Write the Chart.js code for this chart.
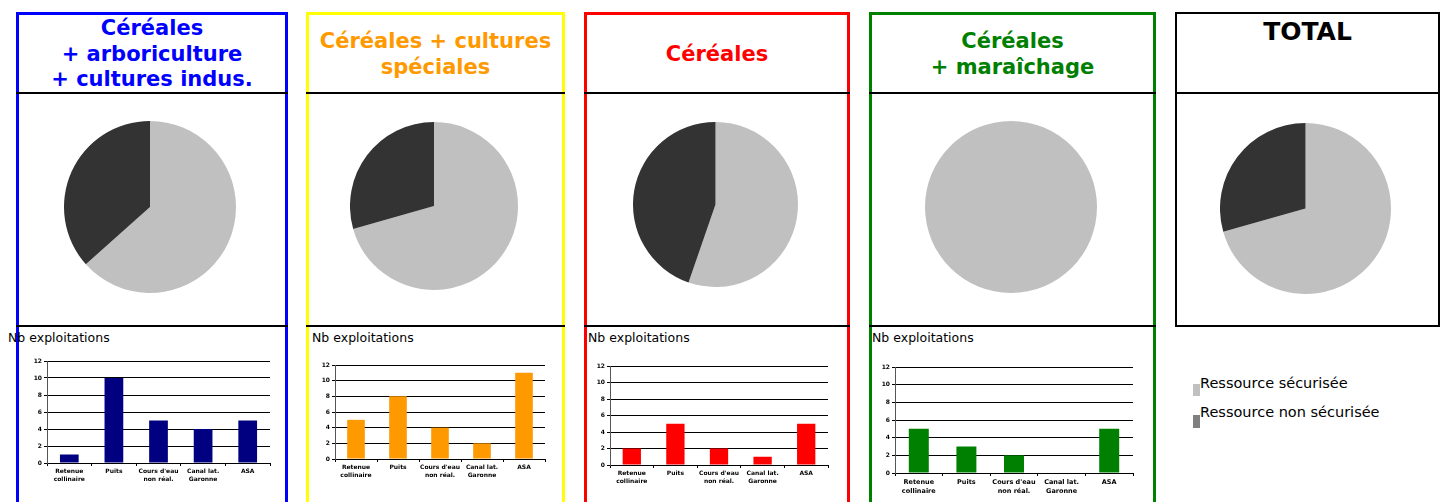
<!DOCTYPE html>
<html>
<head>
<meta charset="utf-8">
<script src="https://cdn.jsdelivr.net/npm/chart.js@4.4.0/dist/chart.umd.min.js"></script>
<style>
  body { margin: 0; background: #fff; width: 1443px; height: 502px; overflow: hidden; position: relative; font-family: "DejaVu Sans", sans-serif; }
  .box { position: absolute; box-sizing: border-box; }
  .sep { position: absolute; height: 2px; background: #000; }
  .title { position: absolute; display: flex; align-items: center; justify-content: center; text-align: center;
           font-weight: bold; font-size: 21px; line-height: 25.5px; }
  .nb { position: absolute; font-size: 12.5px; color: #000; white-space: nowrap; }
  canvas { position: absolute; }
  .leg { position: absolute; font-size: 14.5px; white-space: nowrap; color: #000; }
  .sq { position: absolute; width: 7px; }
</style>
</head>
<body>
<div id="page"></div>
<div class="leg" style="left:1200px; top:375px;">Ressource sécurisée</div>
<div class="sq" style="left:1193px; top:384px; height:12px; background:#c0c0c0;"></div>
<div class="leg" style="left:1200px; top:404px;">Ressource non sécurisée</div>
<div class="sq" style="left:1193px; top:415px; height:13px; background:#808080;"></div>

<script>
// data
const groupTitles = [
  ['Céréales', '+ arboriculture', '+ cultures indus.'],
  ['Céréales + cultures', 'spéciales'],
  ['Céréales'],
  ['Céréales', '+ maraîchage'],
  ['TOTAL']
];
const titleColors = ['#0000ff', '#ff9900', '#ff0000', '#008000', '#000000'];
const borderColors = ['#0000ff', '#ffff00', '#ff0000', '#008000', '#000000'];
const barColors = ['#000080', '#ff9900', '#ff0000', '#008000'];

const pieLabels = ['Ressource sécurisée', 'Ressource non sécurisée'];
const pieSecurise = [63.4, 70.6, 55.3, 100, 70.6];
const pieNonSecurise = [36.6, 29.4, 44.7, 0, 29.4];

const categories = [['Retenue', 'collinaire'], 'Puits', ["Cours d'eau", 'non réal.'], ['Canal lat.', 'Garonne'], 'ASA'];
const barsArbo = [1, 10, 5, 4, 5];
const barsSpeciales = [5, 8, 4, 2, 11];
const barsCereales = [2, 5, 2, 1, 5];
const barsMaraichage = [5, 3, 2, 0, 5];
const barSeries = [barsArbo, barsSpeciales, barsCereales, barsMaraichage];
const yMax = 12, yStep = 2;

// layout
const boxes = [
  { x: 16, w: 272, h: 520, bw: 3 },
  { x: 306, w: 259, h: 520, bw: 3 },
  { x: 584, w: 266, h: 520, bw: 3 },
  { x: 869, w: 287, h: 520, bw: 3 },
  { x: 1175, w: 265, h: 315, bw: 2 }
];
const pies = [
  { cx: 150, cy: 207, r: 86 },
  { cx: 434, cy: 205.5, r: 84 },
  { cx: 715, cy: 204, r: 82.5 },
  { cx: 1011, cy: 207, r: 86 },
  { cx: 1305.5, cy: 208, r: 85.5 }
];
const plots = [
  { l: 47, t: 361, r: 270, b: 462.5, nbX: 8, fs: 6, lab: 1 },
  { l: 335, t: 364.5, r: 545, b: 458.5, nbX: 312, fs: 6, lab: 1 },
  { l: 609.5, t: 366, r: 827, b: 464.5, nbX: 588, fs: 6, lab: 1 },
  { l: 895, t: 366.5, r: 1133, b: 472, nbX: 872, fs: 6.5, lab: 2 }
];

const page = document.getElementById('page');

boxes.forEach((b, i) => {
  const d = document.createElement('div');
  d.className = 'box';
  d.style.cssText = `left:${b.x}px; top:12px; width:${b.w}px; height:${b.h}px; border:${b.bw}px solid ${borderColors[i]};`;
  page.appendChild(d);

  const s1 = document.createElement('div');
  s1.className = 'sep';
  s1.style.cssText = `left:${b.x}px; top:92px; width:${b.w}px;`;
  page.appendChild(s1);
  if (i < 4) {
    const s2 = document.createElement('div');
    s2.className = 'sep';
    s2.style.cssText = `left:${b.x}px; top:325px; width:${b.w}px;`;
    page.appendChild(s2);
  }

  const t = document.createElement('div');
  t.className = 'title';
  if (i === 4) {
    t.style.cssText = `left:${b.x}px; top:17px; width:${b.w}px; height:30px; font-size:25px; color:#000;`;
  } else {
    t.style.cssText = `left:${b.x}px; top:16px; width:${b.w}px; height:77px; color:${titleColors[i]};`;
  }
  t.innerHTML = groupTitles[i].join('<br>');
  page.appendChild(t);
});

// pies
pies.forEach((p, i) => {
  const c = document.createElement('canvas');
  const size = 2 * p.r;
  c.width = size; c.height = size;
  c.style.left = (p.cx - p.r) + 'px';
  c.style.top = (p.cy - p.r) + 'px';
  page.appendChild(c);
  new Chart(c.getContext('2d'), {
    type: 'pie',
    data: {
      labels: pieLabels,
      datasets: [{
        data: [pieSecurise[i], pieNonSecurise[i]],
        backgroundColor: ['#c0c0c0', '#333333'],
        borderWidth: 0
      }]
    },
    options: {
      responsive: false,
      animation: false,
      layout: { padding: 0 },
      plugins: { legend: { display: false }, tooltip: { enabled: false } }
    }
  });
});

// bar charts
const padL = 30, padT = 6, padR = 10, padB = 30;
plots.forEach((p, i) => {
  const nb = document.createElement('div');
  nb.className = 'nb';
  nb.style.left = p.nbX + 'px';
  nb.style.top = '330px';
  nb.textContent = 'Nb exploitations';
  page.appendChild(nb);

  const c = document.createElement('canvas');
  const w = Math.round(p.r - p.l + padL + padR);
  const h = Math.round(p.b - p.t + padT + padB);
  c.width = w; c.height = h;
  c.style.left = (p.l - padL) + 'px';
  c.style.top = (p.t - padT) + 'px';
  page.appendChild(c);

  new Chart(c.getContext('2d'), {
    type: 'bar',
    data: {
      labels: categories,
      datasets: [{
        label: 'Nb exploitations',
        data: barSeries[i],
        backgroundColor: barColors[i],
        borderWidth: 0,
        barPercentage: 0.42,
        categoryPercentage: 1
      }]
    },
    options: {
      responsive: false,
      animation: false,
      layout: { padding: { left: 0, top: padT, right: padR, bottom: 0 } },
      plugins: { legend: { display: false }, tooltip: { enabled: false } },
      scales: {
        x: {
          afterFit: (s) => { s.height = padB; },
          grid: { drawOnChartArea: false, tickLength: 3, color: '#000', offset: true },
          border: { color: '#000', width: 1 },
          ticks: {
            color: '#000', padding: p.lab, maxRotation: 0, autoSkip: false,
            font: { family: 'DejaVu Sans', size: p.fs, weight: 'bold', lineHeight: 1.38 }
          }
        },
        y: {
          min: 0, max: yMax,
          afterFit: (s) => { s.width = padL; },
          grid: { color: '#000', lineWidth: 1, tickLength: 3 },
          border: { color: '#555', width: 1 },
          ticks: {
            stepSize: yStep, color: '#000', padding: 2,
            font: { family: 'DejaVu Sans', size: 6, weight: 'bold' }
          }
        }
      }
    }
  });
});
</script>
</body>
</html>
